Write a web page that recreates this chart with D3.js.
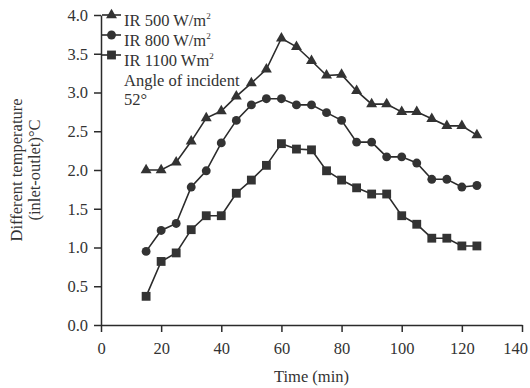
<!DOCTYPE html>
<html>
<head>
<meta charset="utf-8">
<script src="https://cdn.jsdelivr.net/npm/d3@7"></script>
<style>
  html, body { margin: 0; padding: 0; background: #fff; }
  svg { display: block; font-family: "Liberation Serif", "Times New Roman", serif; }
</style>
</head>
<body>
<svg id="chart" width="530" height="388"></svg>
<script>
// Sampling times (min)
const times = [15, 20, 25, 30, 35, 40, 45, 50, 55, 60, 65, 70, 75, 80, 85, 90, 95, 100, 105, 110, 115, 120, 125];

// Temperature difference (inlet - outlet), °C, for each irradiance level
const ir500 = [2.0, 2.0, 2.1, 2.37, 2.67, 2.76, 2.95, 3.12, 3.3, 3.7, 3.59, 3.41, 3.22, 3.23, 3.02, 2.85, 2.85, 2.75, 2.75, 2.66, 2.57, 2.57, 2.45];
const ir800 = [0.95, 1.22, 1.31, 1.78, 1.99, 2.35, 2.64, 2.84, 2.92, 2.92, 2.84, 2.84, 2.74, 2.64, 2.36, 2.36, 2.17, 2.17, 2.09, 1.88, 1.88, 1.78, 1.8];
const ir1100 = [0.37, 0.82, 0.93, 1.23, 1.41, 1.41, 1.70, 1.87, 2.06, 2.34, 2.27, 2.26, 1.99, 1.87, 1.77, 1.69, 1.69, 1.41, 1.30, 1.12, 1.12, 1.02, 1.02];

// Legend labels (superscript handled separately)
const seriesNames = ["IR 500 W/m", "IR 800 W/m", "IR 1100 Wm"];
const noteLines = ["Angle of incident", "52°"];

// Axis ticks
const xTicks = [0, 20, 40, 60, 80, 100, 120, 140];
const yTicks = [0, 0.5, 1.0, 1.5, 2.0, 2.5, 3.0, 3.5, 4.0];

const series = [
  { name: seriesNames[0], values: ir500, symbol: d3.symbolTriangle, size: 52 },
  { name: seriesNames[1], values: ir800, symbol: d3.symbolCircle, size: 62 },
  { name: seriesNames[2], values: ir1100, symbol: d3.symbolSquare, size: 78 }
];

const svg = d3.select("#chart");
const ink = "#2b2b2b";
const fontSize = 16.5;

const x = d3.scaleLinear().domain([0, 140]).range([101, 522]);
const y = d3.scaleLinear().domain([0, 4]).range([325, 15]);

// Axes
const xAxis = svg.append("g")
  .attr("transform", `translate(0,${y(0)})`)
  .call(d3.axisBottom(x).tickValues(xTicks).tickSize(7).tickSizeOuter(0).tickPadding(10).tickFormat(d3.format("d")));
const yAxis = svg.append("g")
  .attr("transform", `translate(${x(0)},0)`)
  .call(d3.axisLeft(y).tickValues(yTicks).tickSize(7).tickSizeOuter(0).tickPadding(6).tickFormat(d3.format(".1f")));

[xAxis, yAxis].forEach(g => {
  g.select(".domain").attr("stroke", ink).attr("stroke-width", 1.5);
  g.selectAll(".tick line").attr("stroke", ink).attr("stroke-width", 1.5);
  g.selectAll(".tick text")
    .attr("fill", "#333")
    .style("font-family", "Liberation Serif, serif")
    .style("font-size", fontSize + "px");
});

// Keep the last x label inside the right edge
xAxis.selectAll(".tick text")
  .filter(d => d === xTicks[xTicks.length - 1])
  .attr("dx", -7);

// Axis titles
svg.append("text")
  .attr("x", (x(0) + x(140)) / 2)
  .attr("y", 382)
  .attr("text-anchor", "middle")
  .attr("fill", "#333")
  .style("font-size", fontSize + "px")
  .text("Time (min)");

const yTitle = svg.append("text")
  .attr("transform", `translate(0,${(y(0) + y(4)) / 2}) rotate(-90)`)
  .attr("text-anchor", "middle")
  .attr("fill", "#333")
  .style("font-size", fontSize + "px");
yTitle.append("tspan").attr("x", 0).attr("y", 22).text("Different temperature");
yTitle.append("tspan").attr("x", 0).attr("y", 40).text("(inlet-outlet)°C");

// Series lines and markers
const line = d3.line()
  .x((d, i) => x(times[i]))
  .y(d => y(d));

series.forEach(s => {
  svg.append("path")
    .datum(s.values)
    .attr("fill", "none")
    .attr("stroke", ink)
    .attr("stroke-width", 1.6)
    .attr("d", line);

  svg.append("g")
    .selectAll("path")
    .data(s.values)
    .join("path")
    .attr("transform", (d, i) => `translate(${x(times[i])},${y(d)})`)
    .attr("d", d3.symbol().type(s.symbol).size(s.size))
    .attr("fill", "#333");
});

// Legend
const legend = svg.append("g");
series.forEach((s, i) => {
  const cy = 15 + i * 20;
  legend.append("line")
    .attr("x1", 102).attr("x2", 121)
    .attr("y1", cy).attr("y2", cy)
    .attr("stroke", ink).attr("stroke-width", 1.6);
  legend.append("path")
    .attr("transform", `translate(111.5,${cy})`)
    .attr("d", d3.symbol().type(s.symbol).size(s.size))
    .attr("fill", "#333");
  const t = legend.append("text")
    .attr("x", 124)
    .attr("y", cy + 11)
    .attr("fill", "#333")
    .style("font-size", fontSize + "px");
  t.append("tspan").text(s.name);
  t.append("tspan").attr("dy", -7).style("font-size", "9px").text("2");
});

noteLines.forEach((txt, i) => {
  legend.append("text")
    .attr("x", 124)
    .attr("y", 86 + i * 19)
    .attr("fill", "#333")
    .style("font-size", fontSize + "px")
    .text(txt);
});
</script>
</body>
</html>
